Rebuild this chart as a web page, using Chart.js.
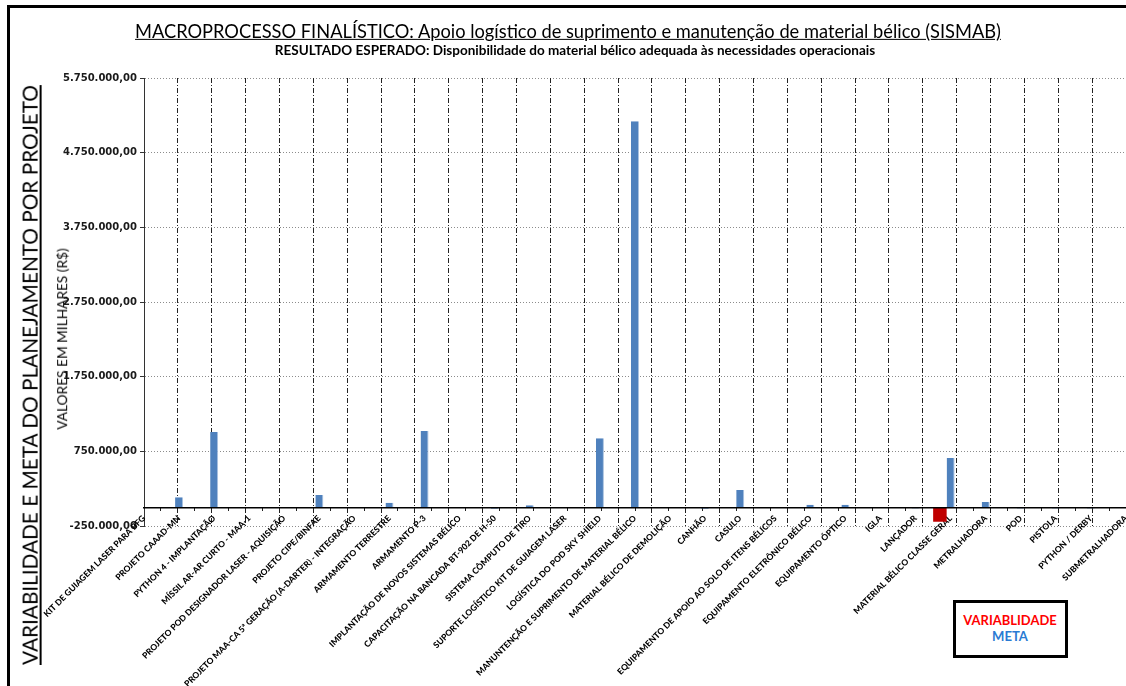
<!DOCTYPE html>
<html lang="pt-BR">
<head>
<meta charset="utf-8">
<title>SISMAB – Variabilidade e meta por projeto</title>
<script src="https://cdn.jsdelivr.net/npm/chart.js@4.4.1/dist/chart.umd.min.js"></script>
<style>
  html, body { margin: 0; padding: 0; background: #fff; overflow: hidden; }
  #page { position: relative; width: 1126px; height: 686px; overflow: hidden; }
  #frame { position: absolute; left: 7px; top: 5px; width: 1200px; height: 800px;
           border-top: 3px solid #000; border-left: 3px solid #000; }
  #plot { position: absolute; left: 0; top: 0; width: 1126px; height: 686px; }
  .txt { position: absolute; white-space: nowrap; color: #000; line-height: 1;
         font-family: Lato, "Open Sans", sans-serif; transform: translate(-50%, -50%); }
  .vert { transform: translate(-50%, -50%) rotate(-90deg); }
  #title { left: 568px; top: 31px; font-size: 18px; text-decoration: underline; }
  #subtitle { left: 575px; top: 51px; font-size: 12px; font-weight: bold; }
  #bigAxisTitle { left: 30px; top: 375px; font-size: 22px; text-decoration: underline; }
  #axisTitle { left: 62px; top: 339px; font-size: 14px; }
  #legendBox { position: absolute; left: 953px; top: 600px; width: 109px; height: 52px;
               border: 3px solid #000; background: #fff; }
  #legVar { left: 1010px; top: 620px; font-size: 12px; font-weight: bold; color: #ff0000; }
  #legMeta { left: 1010px; top: 637px; font-size: 12px; font-weight: bold; color: #2a7bd3; }
</style>
</head>
<body>
<div id="page">
  <div id="frame"></div>
  <div id="plot"><canvas id="chart"></canvas></div>
  <div class="txt" id="title" data-w="866">MACROPROCESSO FINALÍSTICO: Apoio logístico de suprimento e manutenção de material bélico (SISMAB)</div>
  <div class="txt" id="subtitle" data-w="601">RESULTADO ESPERADO: Disponibilidade do material bélico adequada às necessidades operacionais</div>
  <div class="txt vert" id="bigAxisTitle" data-w="580">VARIABILIDADE E META DO PLANEJAMENTO POR PROJETO</div>
  <div class="txt vert" id="axisTitle" data-w="182">VALORES EM MILHARES (R$)</div>
  <div id="legendBox"></div>
  <div class="txt" id="legVar" data-w="94">VARIABLIDADE</div>
  <div class="txt" id="legMeta" data-w="36">META</div>
</div>
<script>
// Projetos do macroprocesso (eixo de categorias)
const categories = [
  'KIT DE GUIAGEM LASER PARA BFG',
  'PROJETO CAAAD-MN',
  'PYTHON 4 - IMPLANTAÇÃO',
  'MÍSSIL AR-AR CURTO - MAA-1',
  'PROJETO POD DESIGNADOR LASER - AQUISIÇÃO',
  'PROJETO CIPE/BINFAE',
  'PROJETO MAA-CA 5ª GERAÇÃO (A-DARTER) - INTEGRAÇÃO',
  'ARMAMENTO TERRESTRE',
  'ARMAMENTO P-3',
  'IMPLANTAÇÃO DE NOVOS SISTEMAS BÉLICO',
  'CAPACITAÇÃO NA BANCADA BT-902 DE H-50',
  'SISTEMA CÔMPUTO DE TIRO',
  'SUPORTE LOGÍSTICO KIT DE GUIAGEM LASER',
  'LOGÍSTICA DO POD SKY SHIELD',
  'MANUNTENÇÃO E SUPRIMENTO DE MATERIAL BÉLICO',
  'MATERIAL BÉLICO DE DEMOLIÇÃO',
  'CANHÃO',
  'CASULO',
  'EQUIPAMENTO DE APOIO AO SOLO DE ITENS BÉLICOS',
  'EQUIPAMENTO ELETRÔNICO BÉLICO',
  'EQUIPAMENTO ÓPTICO',
  'IGLA',
  'LANÇADOR',
  'MATERIAL BÉLICO CLASSE GERAL',
  'METRALHADORA',
  'POD',
  'PISTOLA',
  'PYTHON / DERBY',
  'SUBMETRALHADORA'
];

// Meta do planejamento por projeto (R$ mil)
const metaValues = [
  0, 135000, 1010000, 0, 0, 165000, 0, 62000, 1022000, 0,
  -20000, 27000, 0, 924000, 5170000, 0, -20000, 232000, 0, 35000,
  35000, 0, -15000, 660000, 71000, -15000, -15000, -15000, 0
];

// Variabilidade em relação à meta (R$ mil)
const variabilidadeValues = [
  0, 0, 0, 0, 0, 0, 0, 0, 0, 0,
  0, 0, 0, 0, 0, 0, 0, 0, 0, 0,
  0, 0, 0, -193000, 0, 0, 0, 0, 0
];

// Marcas do eixo de valores
const yTickValues = [-250000, 750000, 1750000, 2750000, 3750000, 4750000, 5750000];

function formatBRL(v) {
  const neg = v < 0;
  const digits = Math.abs(Math.round(v)).toString().replace(/\B(?=(\d{3})+(?!\d))/g, '.');
  return (neg ? '-' : '') + digits + ',00';
}

function fitTexts() {
  document.querySelectorAll('[data-w]').forEach(el => {
    const target = parseFloat(el.dataset.w);
    const fs = parseFloat(getComputedStyle(el).fontSize);
    el.style.fontSize = (fs * target / el.offsetWidth) + 'px';
  });
}

const hideScaleBox = s => { s.height = 0; s.paddingLeft = 0; s.paddingRight = 0; };

function build() {
  fitTexts();
  new Chart(document.getElementById('chart'), {
    type: 'bar',
    data: {
      labels: categories,
      datasets: [
        {
          label: 'VARIABLIDADE',
          data: variabilidadeValues,
          backgroundColor: '#c00000',
          categoryPercentage: 0.9196,
          barPercentage: 1.256,
          xAxisID: 'x', yAxisID: 'y'
        },
        {
          label: 'META',
          data: metaValues,
          backgroundColor: '#4f81bd',
          borderColor: '#a9c1df',
          borderWidth: { top: 0, right: 1, bottom: 0, left: 0 },
          categoryPercentage: 0.9,
          barPercentage: 0.76,
          xAxisID: 'x', yAxisID: 'y'
        },
        {
          // posição reservada do agrupamento (sem valores)
          label: '',
          data: categories.map(() => null),
          xAxisID: 'x', yAxisID: 'y'
        }
      ]
    },
    options: {
      responsive: true,
      maintainAspectRatio: false,
      animation: false,
      devicePixelRatio: 1,
      layout: { padding: { top: 78, left: 0, right: 0, bottom: 160 } },
      plugins: { legend: { display: false }, tooltip: { enabled: false }, title: { display: false } },
      scales: {
        y: {
          type: 'linear',
          position: 'left',
          min: -250000,
          max: 5750000,
          afterBuildTicks: s => { s.ticks = yTickValues.map(v => ({ value: v })); },
          afterFit: s => { s.width = 144; },
          ticks: {
            callback: v => formatBRL(v),
            color: '#1a1a1a',
            padding: 3,
            font: { family: 'DejaVu Sans', weight: 'bold', size: 10 }
          },
          grid: {
            color: '#8c8c8c', lineWidth: 1,
            drawTicks: true, tickLength: 4, tickColor: '#333', tickWidth: 1, tickBorderDash: []
          },
          border: { display: true, color: '#333', width: 1, dash: [1, 2] }
        },
        x: {
          type: 'category',
          position: { y: 0 },
          offset: false,
          grid: { display: true, drawOnChartArea: false, drawTicks: false },
          border: { display: true, color: '#000', width: 1.5, z: 1 },
          ticks: {
            autoSkip: false,
            minRotation: 45,
            maxRotation: 45,
            padding: 6,
            color: '#000',
            font: { family: 'Lato', weight: '900', size: 8.5 }
          },
          afterFit: hideScaleBox
        },
        xGrid: {
          type: 'category',
          position: { y: 0 },
          offset: true,
          grid: {
            offset: true,
            drawTicks: false,
            lineWidth: 1,
            color: c => (c.type !== 'tick' || c.index === 0) ? 'rgba(0,0,0,0)' : '#222'
          },
          border: { display: false, dash: [5, 2, 1, 2] },
          ticks: { display: false },
          afterFit: hideScaleBox
        },
        xMarks: {
          type: 'category',
          position: { y: 0 },
          offset: true,
          grid: {
            offset: false,
            drawOnChartArea: false,
            drawTicks: true,
            tickLength: 4,
            tickColor: '#222',
            tickWidth: 1
          },
          border: { display: false },
          ticks: { display: false },
          afterFit: hideScaleBox
        }
      }
    }
  });
}

if (document.fonts && document.fonts.ready) {
  document.fonts.ready.then(build);
} else {
  build();
}
</script>
</body>
</html>
